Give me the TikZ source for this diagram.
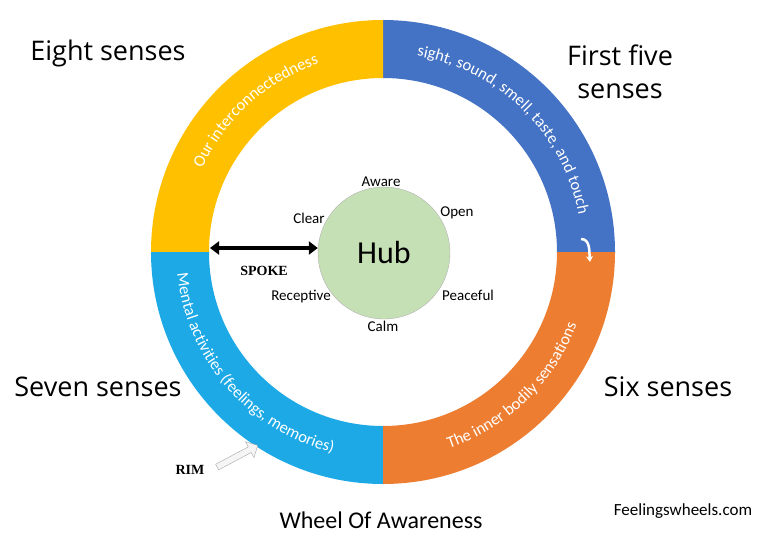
\documentclass[tikz,border=0pt]{standalone}
\usepackage{fontspec}
\setmainfont{Carlito}
\newfontfamily\handfont{Open Sans}
\newfontfamily\capsfont{Liberation Serif}
\usetikzlibrary{positioning,arrows.meta,shapes.arrows,decorations.text}

\definecolor{eightcol}{HTML}{FFC000}
\definecolor{fivecol}{HTML}{4472C4}
\definecolor{sixcol}{HTML}{ED7D31}
\definecolor{sevencol}{HTML}{1CA9E6}
\definecolor{hubcol}{HTML}{C5E0B4}
\newcommand\ringfont{\fontsize{16.5}{18}\selectfont\color{white}}

\tikzset{
  sense/.style={font=\handfont\fontsize{27}{33}\selectfont, align=center},
  quality/.style={font=\fontsize{15}{17}\selectfont},
  hub/.style={circle, fill=hubcol, draw=gray!60, inner sep=0pt,
    minimum size=132pt, font=\fontsize{32}{34}\selectfont},
  ringtext/.style={decorate, decoration={text along path,
    text align=center, text={#1}}},
  tag/.style={font=\capsfont\bfseries\fontsize{14}{16}\selectfont},
}

\begin{document}
\begin{tikzpicture}[x=1pt, y=1pt]
    \useasboundingbox (0,0) rectangle (768,550);
    \coordinate (C) at (383,298);
    % the rim, one quarter for each sense group
    \begin{scope}[shift={(C)}]
        \foreach \a/\c in {0/fivecol, 90/eightcol, 180/sevencol, 270/sixcol}
            \fill[\c] (\a:232) arc[start angle=\a, delta angle=90, radius=232pt]
                -- (\a+90:174) arc[start angle=\a+90, delta angle=-90, radius=174pt] -- cycle;
        \path[ringtext={|\ringfont|Our interconnectedness}]
            (172:199) arc[start angle=172, end angle=92, radius=199pt];
        \path[ringtext={|\ringfont|sight, sound, smell, taste, and touch}]
            (86:199) arc[start angle=86, end angle=5, radius=199pt];
        \path[ringtext={|\ringfont|The inner bodily sensations}]
            (-86:207) arc[start angle=-86, end angle=-6, radius=207pt];
        \path[ringtext={|\ringfont|Mental activities (feelings, memories)}]
            (176:207) arc[start angle=176, end angle=266, radius=207pt];
    \end{scope}
    \draw[white, line width=2.5pt, -{Stealth[length=6pt,width=7pt]}]
        (581,311) to[out=0, in=95] (590,288);

    % the hub
    \node[hub] (hub) at (384,297) {Hub};
    \node[quality] (aware) at (381,368) {Aware};
    \node[quality] (open) at (457,337) {Open};
    \node[quality] (peaceful) at (468,255) {Peaceful};
    \node[quality] (calm) at (383,224) {Calm};
    \node[quality] (receptive) at (301,253) {Receptive};
    \node[quality] (clear) at (309,332) {Clear};

    % spoke and rim
    \coordinate (rimin) at (210,302);
    \draw[line width=3.5pt, {Triangle[length=9pt,width=13pt]}-{Triangle[length=9pt,width=13pt]}]
        (rimin) -- (rimin -| hub.west);
    \node[tag] (spoke) at (264,279) {SPOKE};
    \node[tag] (rim) at (190,80) {RIM};
    \node[single arrow, draw=gray!70, fill=gray!8, rotate=28, minimum height=46pt,
        minimum width=18pt, single arrow head extend=4pt, inner sep=2pt] (rimarrow) at (236,93) {};

    % the senses
    \node[sense] (eight) at (108,497) {Eight senses};
    \node[sense] (five) at (620,478) {First five\\senses};
    \node[sense] (seven) at (98,163) {Seven senses};
    \node[sense] (six) at (668,163) {Six senses};
    \node[font=\fontsize{24}{26}\selectfont] (title) at (381,30) {Wheel Of Awareness};
    \node[font=\fontsize{17}{19}\selectfont] (site) at (683,39) {Feelingswheels.com};
\end{tikzpicture}
\end{document}
